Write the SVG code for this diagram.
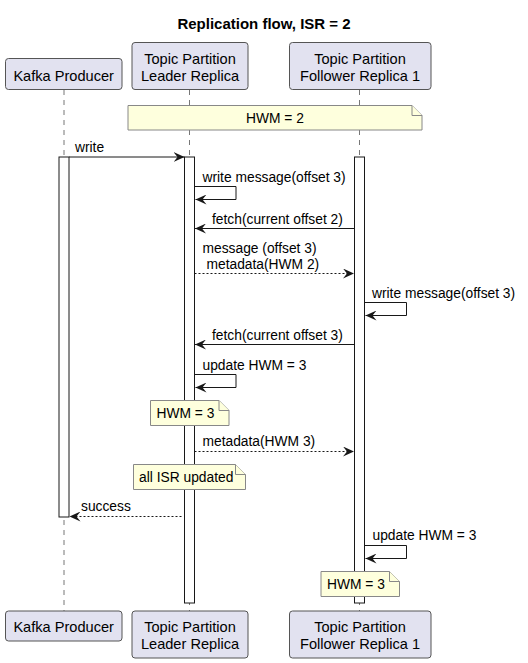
<svg xmlns="http://www.w3.org/2000/svg" width="528" height="663" viewBox="0 0 528 663">
<style>
text{font-family:"Liberation Sans",Arial,sans-serif;fill:#000}
.title{font-size:15px;font-weight:bold}
.pt{font-size:14.6px}
.msg{font-size:13.8px}
.part{fill:#E2E2F0;stroke:#555;stroke-width:1}
.life{stroke:#777;stroke-width:1;stroke-dasharray:5,5;fill:none}
.act{fill:#fff;stroke:#181818;stroke-width:1}
.note{fill:#FEFFDD;stroke:#888;stroke-width:1}
.ln{stroke:#181818;stroke-width:1;fill:none}
.dash{stroke:#181818;stroke-width:1;fill:none;stroke-dasharray:2,2}
.ah{fill:#181818}
</style>
<defs>
<marker id="arr" viewBox="0 0 12 10" refX="11" refY="5" markerWidth="12" markerHeight="10" markerUnits="userSpaceOnUse" orient="auto">
<path d="M0,0 L11,5 L0,10 L4,5 Z" class="ah"/>
</marker>
</defs>
<text class="title" x="264" y="29" text-anchor="middle">Replication flow, ISR = 2</text>

<g id="lifelines">
<line class="life" x1="64" y1="90" x2="64" y2="611"/>
<line class="life" x1="189.5" y1="90" x2="189.5" y2="611"/>
<line class="life" x1="359.5" y1="90" x2="359.5" y2="611"/>
</g>

<g id="producer">
<rect class="part" x="5.5" y="58.5" width="116.5" height="31" rx="3"/>
<text class="pt" x="63.7" y="80.5" text-anchor="middle">Kafka Producer</text>
<rect class="part" x="5.5" y="611" width="116.5" height="30" rx="3"/>
<text class="pt" x="63.7" y="632" text-anchor="middle">Kafka Producer</text>
<rect class="act" x="59" y="157" width="10" height="360"/>
</g>

<g id="leader">
<rect class="part" x="132" y="42.5" width="116" height="47" rx="3"/>
<text class="pt" x="190" y="63.5" text-anchor="middle">Topic Partition</text>
<text class="pt" x="190" y="80.5" text-anchor="middle">Leader Replica</text>
<rect class="part" x="132" y="611" width="116" height="47" rx="3"/>
<text class="pt" x="190" y="632" text-anchor="middle">Topic Partition</text>
<text class="pt" x="190" y="649" text-anchor="middle">Leader Replica</text>
<rect class="act" x="184.5" y="157" width="10" height="446"/>
</g>

<g id="follower">
<rect class="part" x="289.5" y="42.5" width="141.5" height="47" rx="3"/>
<text class="pt" x="360" y="63.5" text-anchor="middle">Topic Partition</text>
<text class="pt" x="360" y="80.5" text-anchor="middle">Follower Replica 1</text>
<rect class="part" x="289.5" y="611" width="141.5" height="47" rx="3"/>
<text class="pt" x="360" y="632" text-anchor="middle">Topic Partition</text>
<text class="pt" x="360" y="649" text-anchor="middle">Follower Replica 1</text>
<rect class="act" x="354.5" y="157" width="10" height="446"/>
</g>

<g id="note-hwm2">
<path class="note" d="M128,105.5 L412,105.5 L422,115.5 L422,130 L128,130 Z"/>
<path class="note" d="M412,105.5 L412,115.5 L422,115.5"/>
<text class="msg" x="275" y="123" text-anchor="middle">HWM = 2</text>
</g>

<g id="note-leader-hwm3">
<path class="note" d="M150.5,400.5 L219,400.5 L229,410.5 L229,425.5 L150.5,425.5 Z"/>
<path class="note" d="M219,400.5 L219,410.5 L229,410.5"/>
<text class="msg" x="156.5" y="417.5">HWM = 3</text>
</g>

<g id="note-isr">
<path class="note" d="M133.5,464.5 L235.5,464.5 L245.5,474.5 L245.5,489.5 L133.5,489.5 Z"/>
<path class="note" d="M235.5,464.5 L235.5,474.5 L245.5,474.5"/>
<text class="msg" x="139" y="482">all ISR updated</text>
</g>

<g id="note-follower-hwm3">
<path class="note" d="M321,571.5 L389.5,571.5 L399.5,581.5 L399.5,596.5 L321,596.5 Z"/>
<path class="note" d="M389.5,571.5 L389.5,581.5 L399.5,581.5"/>
<text class="msg" x="327" y="589">HWM = 3</text>
</g>

<g id="connectors">
<line class="ln" x1="69" y1="157" x2="184.5" y2="157" marker-end="url(#arr)"/>
<text class="msg" x="75" y="151.5">write</text>

<polyline class="ln" points="194.5,186.5 236,186.5 236,199.5 195.5,199.5" marker-end="url(#arr)"/>
<text class="msg" x="202.5" y="182">write message(offset 3)</text>

<line class="ln" x1="354.5" y1="228.5" x2="195" y2="228.5" marker-end="url(#arr)"/>
<text class="msg" x="212" y="223.5">fetch(current offset 2)</text>

<line class="dash" x1="194.5" y1="273.5" x2="354" y2="273.5" marker-end="url(#arr)"/>
<text class="msg" x="202.5" y="253">message (offset 3)</text>
<text class="msg" x="206.5" y="268.5">metadata(HWM 2)</text>

<polyline class="ln" points="364.5,302.5 406.5,302.5 406.5,315.5 365.5,315.5" marker-end="url(#arr)"/>
<text class="msg" x="372" y="297.5">write message(offset 3)</text>

<line class="ln" x1="354.5" y1="344.5" x2="195" y2="344.5" marker-end="url(#arr)"/>
<text class="msg" x="212" y="339.5">fetch(current offset 3)</text>

<polyline class="ln" points="194.5,374.5 236,374.5 236,387.5 195.5,387.5" marker-end="url(#arr)"/>
<text class="msg" x="202.5" y="370">update HWM = 3</text>

<line class="dash" x1="194.5" y1="451.5" x2="354" y2="451.5" marker-end="url(#arr)"/>
<text class="msg" x="202.5" y="446">metadata(HWM 3)</text>

<line class="dash" x1="181.5" y1="516.5" x2="69.5" y2="516.5" marker-end="url(#arr)"/>
<text class="msg" x="81" y="511">success</text>

<polyline class="ln" points="364.5,545.5 406.5,545.5 406.5,558.5 365.5,558.5" marker-end="url(#arr)"/>
<text class="msg" x="372.5" y="540">update HWM = 3</text>
</g>
</svg>
